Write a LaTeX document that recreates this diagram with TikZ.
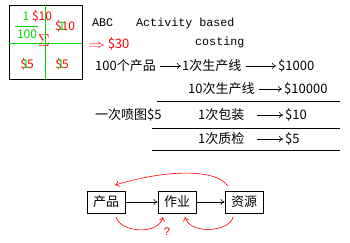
\documentclass[tikz,border=0pt]{standalone}
\usepackage{fontspec}
\setmainfont{Liberation Sans}
\newfontfamily\cjk{Noto Sans CJK SC}
\newfontfamily\monof{Liberation Mono}
\usetikzlibrary{arrows.meta}
\definecolor{grn}{RGB}{0,220,0}
\begin{document}
\begin{tikzpicture}[x=1pt,y=-1pt,
  txt/.style={inner sep=0pt,anchor=west,font=\cjk\fontsize{13}{15}\selectfont},
  mono/.style={inner sep=0pt,anchor=west,font=\monof\fontsize{11.7}{14}\selectfont},
  rtxt/.style={inner sep=0pt,text=red,font=\cjk\fontsize{12}{14}\selectfont},
  gtxt/.style={inner sep=0pt,text=grn,font=\cjk\fontsize{12}{14}\selectfont},
  arr/.style={-{To[length=4pt,width=6pt]},line width=0.6pt},
  rarr/.style={-{To[length=4pt,width=6pt]},red,line width=0.6pt},
  boxn/.style={draw,line width=0.9pt,minimum width=38pt,minimum height=22pt,inner sep=0pt,font=\cjk\fontsize{13}{15}\selectfont},
  rule/.style={line width=0.6pt}]
\useasboundingbox (0,0) rectangle (350,243);
% top-left box
\draw[line width=0.8pt] (9,5) rectangle (82,79);
\draw[grn,line width=0.8pt] (45,5) -- (45,79);
\draw[grn,line width=0.8pt] (9,43) -- (82,43);
\draw[grn,line width=0.8pt] (15,26) -- (38,26);
\node[gtxt] (g1) at (26,16) {1};
\node[rtxt] (r10a) at (42,16) {\$10};
\node[gtxt] (g100) at (27,34) {100};
\node[rtxt,font=\fontsize{18}{20}\selectfont] (sig) at (44,41) {$\Sigma$};
\node[rtxt] (r10b) at (65,26) {\$10};
\node[gtxt] (g1b) at (62,26) {1};
\node[rtxt] (r5a) at (27,64) {\$5};
\node[gtxt] (g1c) at (26,64) {1};
\node[rtxt] (r5b) at (62,64) {\$5};
\node[gtxt] (g1d) at (61,64) {1};
\node[rtxt,font=\fontsize{5}{6}\selectfont] (dot) at (88,43) {:};
% header
\node[mono] (abc) at (92,23) {ABC};
\node[mono] (act) at (136,23) {Activity based};
\node[mono] (cost) at (195,42) {costing};
\node[inner sep=0pt,anchor=west,text=red,font=\fontsize{13}{15}\selectfont] (arr30) at (88,44) {\scalebox{1.45}[1]{$\Rightarrow$}\,\cjk\$30};
% rows
\node[txt] (p100) at (95,66) {100个产品};
\node[txt] (l1) at (182,66) {1次生产线};
\node[txt] (c1000) at (278,66) {\$1000};
\draw[arr] ([xshift=4pt]p100.east) -- ([xshift=-1pt]l1.west);
\draw[arr] ([xshift=4pt]l1.east) -- ([xshift=-2pt]c1000.west);
\node[txt] (l10) at (188,89) {10次生产线};
\node[txt] (c10000) at (284,89) {\$10000};
\draw[arr] ([xshift=4pt]l10.east) -- ([xshift=-2pt]c10000.west);
\draw[rule] (157,101) -- (340,101);
\node[txt] (pt) at (95,115) {一次喷图\$5};
\node[txt] (bz) at (198,115) {1次包装};
\node[txt] (c10) at (285,115) {\$10};
\draw[arr] ([xshift=12pt]bz.east) -- ([xshift=-2pt]c10.west);
\draw[rule] (152,128) -- (340,128);
\node[txt] (zj) at (198,139) {1次质检};
\node[txt] (c5) at (285,139) {\$5};
\draw[arr] ([xshift=12pt]zj.east) -- ([xshift=-2pt]c5.west);
\draw[rule] (152,150) -- (340,150);
% bottom
\node[boxn] (cp) at (106,202) {产品};
\node[boxn] (zy) at (177,202) {作业};
\node[boxn] (zyu) at (244,202) {资源};
\draw[arr] (cp) -- (zy);
\draw[arr] (zy) -- (zyu);
\coordinate (t1) at (228,186);
\coordinate (t2) at (115,185);
\coordinate (b1) at (116,217);
\coordinate (b2) at (163,217);
\coordinate (b3) at (233,217);
\coordinate (b4) at (185,217);
\draw[rarr] (t1) .. controls (215,168) and (165,170) .. (t2);
\draw[rarr] (b1) .. controls (120,232) and (158,236) .. (b2);
\draw[rarr] (b3) .. controls (230,232) and (190,235) .. (b4);
\node[rtxt,font=\fontsize{11}{13}\selectfont] (q) at (167,232) {?};
\end{tikzpicture}
\end{document}
